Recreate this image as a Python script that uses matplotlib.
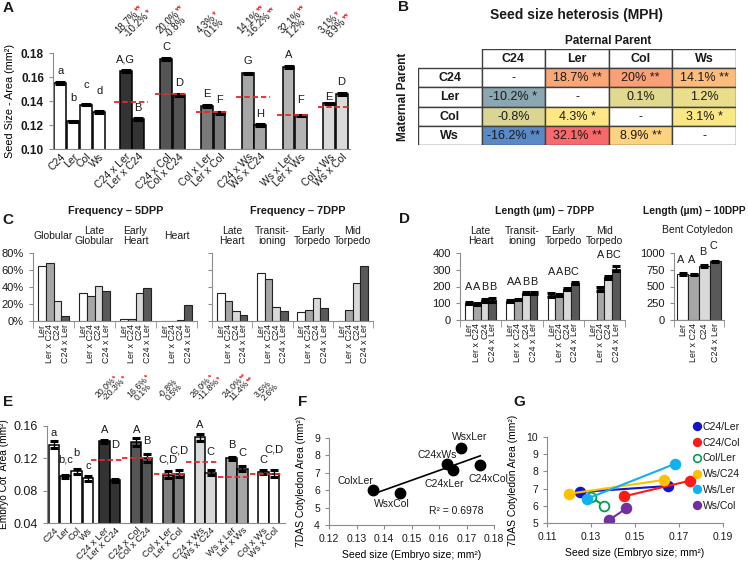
import numpy as np
import matplotlib
matplotlib.use('Agg')
import matplotlib.pyplot as plt
from matplotlib import transforms
from matplotlib.patches import Rectangle
from matplotlib.lines import Line2D
from matplotlib.colors import LinearSegmentedColormap, TwoSlopeNorm
from matplotlib.font_manager import FontProperties

FAMILY = ['Liberation Sans', 'DejaVu Sans']
plt.rcParams['font.family'] = FAMILY
plt.rcParams['font.size'] = 7.5
plt.rcParams['axes.edgecolor'] = '#8c8c8c'
plt.rcParams['xtick.color'] = '#8c8c8c'
plt.rcParams['ytick.color'] = '#8c8c8c'
plt.rcParams['xtick.labelcolor'] = '#1a1a1a'
plt.rcParams['ytick.labelcolor'] = '#1a1a1a'
plt.rcParams['text.color'] = '#1a1a1a'

# ---------------- data ----------------
parents = ['C24', 'Ler', 'Col', 'Ws']
crosses = [('C24', 'Ler'), ('Ler', 'C24'), ('C24', 'Col'), ('Col', 'C24'),
           ('Col', 'Ler'), ('Ler', 'Col'), ('C24', 'Ws'), ('Ws', 'C24'),
           ('Ws', 'Ler'), ('Ler', 'Ws'), ('Col', 'Ws'), ('Ws', 'Col')]
genotypes = parents + ['%s x %s' % c for c in crosses]

# A: seed size
seed_area = [0.155, 0.123, 0.137, 0.131, 0.165, 0.125, 0.175, 0.145,
             0.136, 0.130, 0.163, 0.120, 0.168, 0.128, 0.138, 0.146]
seed_err = [0.0008, 0.0006, 0.0007, 0.0006, 0.0008, 0.0006, 0.0008, 0.0007,
            0.0007, 0.0006, 0.0007, 0.0006, 0.0008, 0.0006, 0.0007, 0.0007]
seed_letters = ['a', 'b', 'c', 'd', 'A,G', 'B', 'C', 'D',
                'E', 'F', 'G', 'H', 'A', 'F', 'E', 'D']
seed_letter_y = [0.165, 0.1428, 0.1533, 0.1483, 0.1742, 0.134, 0.1853, 0.1553,
                 0.1458, 0.1408, 0.1733, 0.1292, 0.1783, 0.1408, 0.1436, 0.156]
seed_midparent = [0.139, 0.146, 0.131, 0.143, 0.128, 0.135]

# B: mid-parent heterosis of seed size (rows maternal, cols paternal)
mph_seed = [[np.nan, 18.7, 20.0, 14.1],
            [-10.2, np.nan, 0.1, 1.2],
            [-0.8, 4.3, np.nan, 3.1],
            [-16.2, 32.1, 8.9, np.nan]]
sig_seed = [['', '**', '**', '**'],
            ['*', '', '', ''],
            ['', '*', '', '*'],
            ['**', '**', '**', '']]

# C: stage frequencies (%)
line_names = ['Ler', 'Ler x C24', 'C24', 'C24 x Ler']
stages_5dpp = ['Globular', 'Late\nGlobular', 'Early\nHeart', 'Heart']
freq_5dpp = [[65, 68, 24, 6], [33, 29, 41, 35], [2, 2.5, 33, 39], [0, 0, 1, 19]]
stages_7dpp = ['Late\nHeart', 'Transit-\nioning', 'Early\nTorpedo', 'Mid\nTorpedo']
freq_7dpp = [[33, 24, 11.5, 7], [56, 50, 16.5, 12], [10.5, 13, 27, 15], [0, 13, 45, 65]]

# D: embryo length (um)
len_7dpp = [[100, 95, 118, 118], [115, 122, 160, 160],
            [150, 150, 188, 220], [np.nan, 183, 255, 305]]
len_7dpp_err = [[7, 6, 10, 12], [5, 5, 6, 7], [12, 5, 6, 8], [0, 12, 8, 15]]
len_7dpp_letters = [['A', 'A', 'B', 'B'], ['A', 'A', 'B', 'B'],
                    ['A', 'A', 'B', 'C'], ['', 'A', 'B', 'C']]
len_7dpp_letter_y = [195, 228, 287, 386]
stage_10dpp = ['Bent Cotyledon']
len_10dpp = [[688, 678, 808, 878]]
len_10dpp_err = [[12, 10, 12, 10]]
len_10dpp_letters = [['A', 'A', 'B', 'C']]
len_10dpp_letter_y = [890, 890, 1015, 1100]

# E: embryo cotyledon area
cot_area = [0.137, 0.098, 0.104, 0.0955, 0.141, 0.093, 0.140, 0.120,
            0.100, 0.101, 0.146, 0.102, 0.120, 0.107, 0.103, 0.101]
cot_err = [0.004, 0.002, 0.003, 0.003, 0.002, 0.002, 0.005, 0.005,
           0.004, 0.004, 0.004, 0.003, 0.002, 0.003, 0.002, 0.004]
cot_letters = ['a', 'b,c', 'b', 'c', 'A', 'D', 'A', 'B',
               'C,D', 'C,D', 'A', 'C', 'B', 'C', 'C', 'C,D']
cot_letter_y = [0.1517, 0.1188, 0.1262, 0.1105, 0.155, 0.1365, 0.155, 0.1418,
                0.118, 0.130, 0.161, 0.128, 0.1365, 0.127, 0.118, 0.1315]
cot_midparent = [0.1175, 0.1205, 0.101, 0.116, 0.097, 0.1005]
cot_mph = [20.0, -20.3, 16.6, 0.1, -0.8, 0.5, 26.0, -11.8, 24.0, 11.4, 3.5, 2.6]
cot_sig = ['*', '*', '*', '', '', '', '*', '*', '**', '**', '', '']

# F: seed size vs 7DAS cotyledon area
f_names = ['ColxLer', 'WsxCol', 'C24xWs', 'C24xLer', 'WsxLer', 'C24xCol']
f_seed = [0.136, 0.146, 0.163, 0.165, 0.168, 0.175]
f_cot = [6.0, 5.85, 7.5, 7.15, 8.43, 7.46]

# G: reciprocal pairs
g_names = ['C24/Ler', 'C24/Col', 'Col/Ler', 'Ws/C24', 'Ws/Ler', 'Ws/Col']
g_seed = [[0.125, 0.165], [0.145, 0.175], [0.130, 0.136],
          [0.120, 0.163], [0.128, 0.168], [0.138, 0.146]]
g_cot = [[6.8, 7.15], [6.55, 7.46], [6.5, 6.0],
         [6.7, 7.5], [6.4, 8.43], [5.15, 5.85]]

# ---------------- figure ----------------
W, H = 748, 563
fig = plt.figure(figsize=(W / 100, H / 100), dpi=100)
renderer = fig.canvas.get_renderer()


def add_ax(x0, y0, x1, y1):
    return fig.add_axes([x0 / W, 1 - y1 / H, (x1 - x0) / W, (y1 - y0) / H])


def ftext(x, y, s, **kw):
    kw.setdefault('ha', 'center')
    kw.setdefault('va', 'center')
    fig.text(x / W, 1 - y / H, s, **kw)


def clean(ax):
    ax.spines['top'].set_visible(False)
    ax.spines['right'].set_visible(False)


def star_label(ax, x, yfrac, text, star, size, dx=0, dy=0, angle=45):
    base = transforms.blended_transform_factory(ax.transData, ax.transAxes)
    kw = dict(rotation=angle, rotation_mode='anchor', ha='left', va='baseline',
              fontsize=size, clip_on=False)
    ax.text(x, yfrac, text, transform=transforms.offset_copy(base, fig=fig, x=dx, y=dy, units='dots'), **kw)
    if star:
        w = renderer.get_text_width_height_descent(text, FontProperties(family=FAMILY, size=size), ismath=False)[0]
        a = np.radians(angle)
        ax.text(x, yfrac, star, color='#e00000',
                transform=transforms.offset_copy(base, fig=fig, x=dx + w * np.cos(a), y=dy + w * np.sin(a), units='dots'),
                **kw)


def cross_panel(ax, values, errs, letters, letter_y, midparent, pair_start, pair_step,
                pair_colors, mp_span, capsize, label_size):
    x_par = np.arange(4)
    x_cross = np.array([[pair_start + pair_step * i, pair_start + pair_step * i + 0.95] for i in range(6)]).ravel()
    xs = np.concatenate([x_par, x_cross])
    cols = ['white'] * 4 + [c for c in pair_colors for _ in range(2)]
    ax.bar(xs, values, width=0.92, color=cols, edgecolor='black', linewidth=1.1, zorder=2)
    ax.errorbar(xs, values, yerr=errs, fmt='none', ecolor='black', elinewidth=1,
                capsize=capsize, capthick=2.2, zorder=3)
    for x, t, y in zip(xs, letters, letter_y):
        ax.text(x, y, t, ha='center', va='center', fontsize=8, clip_on=False)
    centers = x_cross.reshape(6, 2).mean(axis=1)
    for c, mp in zip(centers, midparent):
        ax.plot([c + mp_span[0], c + mp_span[1]], [mp, mp], color='#e8262a', lw=1.3,
                ls=(0, (3, 1.6)), zorder=4)
    ax.set_xticks(xs)
    ax.set_xticklabels(genotypes, rotation=45, ha='right', rotation_mode='anchor', fontsize=label_size)
    ax.tick_params(axis='x', length=0, pad=2)
    ax.tick_params(axis='y', direction='out', length=3)
    clean(ax)
    return centers


# ---- A ----
axA = add_ax(53, 53, 350, 149)
cA = cross_panel(axA, seed_area, seed_err, seed_letters, seed_letter_y, seed_midparent,
                 5.05, 3.13, ['#333333', '#555555', '#7a7a7a', '#a6a6a6', '#b4b4b4', '#dadada'],
                 (-1.35, 1.2), 3.8, 7.5)
axA.set_xlim(-0.55, 22.3)
axA.set_ylim(0.10, 0.18)
axA.set_yticks(np.arange(0.10, 0.181, 0.02))
axA.set_yticklabels(['%.2f' % v for v in np.arange(0.10, 0.181, 0.02)], fontweight='bold', fontsize=8.5)
axA.set_ylabel('Seed Size - Area (mm²)', fontsize=7.8, labelpad=4)

pidx = {p: i for i, p in enumerate(parents)}
for i, c in enumerate(cA):
    for k, (m, p) in enumerate(crosses[2 * i:2 * i + 2]):
        v = mph_seed[pidx[m]][pidx[p]]
        star_label(axA, c - 0.95, 1.2, '%.1f%%' % v, sig_seed[pidx[m]][pidx[p]], 7,
                   dx=8 * k, dy=-4 * k)

# ---- B ----
axB = add_ax(418, 49, 736, 145)
axB.set_xlim(0, 5)
axB.set_ylim(5, 0)
axB.axis('off')
vals = np.array(mph_seed, dtype=float)
cmap = LinearSegmentedColormap.from_list('mph', ['#5A8AC6', '#FFEB84', '#F8696B'])
norm = TwoSlopeNorm(vmin=np.nanmin(vals), vcenter=np.nanmedian(vals), vmax=np.nanmax(vals))
for r in range(5):
    for c in range(5):
        if r == 0 and c == 0:
            continue
        fc = 'white'
        if r == 0:
            txt, fw = parents[c - 1], 'bold'
        elif c == 0:
            txt, fw = parents[r - 1], 'bold'
        else:
            v = vals[r - 1, c - 1]
            fw = 'normal'
            if np.isnan(v):
                txt = '-'
            else:
                s = sig_seed[r - 1][c - 1]
                txt = '%g%%' % v + (' ' + s if s else '')
                fc = cmap(norm(v))
        axB.add_patch(Rectangle((c, r), 1, 1, facecolor=fc, edgecolor='#404040', lw=1))
        axB.text(c + 0.5, r + 0.52, txt, ha='center', va='center', fontsize=9, fontweight=fw)
ftext(577, 15, 'Seed size heterosis (MPH)', fontsize=10, fontweight='bold')
ftext(608, 41, 'Paternal Parent', fontsize=8.5, fontweight='bold')
ftext(403, 97, 'Maternal Parent', fontsize=8.5, fontweight='bold', rotation=90)

# ---- C and D ----
line_colors = ['white', '#a6a6a6', '#d9d9d9', '#595959']


def stage_panel(ax, data, names, G, ylim, yticks, ylabels=None, errs=None,
                letters=None, letter_y=None, name_y=1.25):
    xs_all = []
    for g, vals_g in enumerate(data):
        x = g * G + (G - 4) / 2 + 0.5 + np.arange(4)
        xs_all.extend(x)
        ax.bar(x, vals_g, width=1.0, color=line_colors, edgecolor='#222222', linewidth=0.8, zorder=2)
        if errs is not None:
            ok = ~np.isnan(np.array(vals_g, dtype=float))
            ax.errorbar(x[ok], np.array(vals_g)[ok], yerr=np.array(errs[g])[ok], fmt='none',
                        ecolor='black', elinewidth=1, capsize=2.8, capthick=2.2, zorder=3)
        if letters is not None:
            for xi, t in zip(x, letters[g]):
                ax.text(xi, letter_y[g], t, ha='center', va='center', fontsize=7.8, clip_on=False)
        ax.text(g * G + G / 2, name_y, names[g], ha='center', va='center', fontsize=7.5,
                linespacing=1.05, transform=transforms.blended_transform_factory(ax.transData, ax.transAxes))
    ax.set_xlim(0, G * len(data))
    ax.set_ylim(*ylim)
    ax.set_xticks(xs_all)
    ax.set_xticklabels(line_names * len(data), rotation=90, va='top', ha='center', fontsize=6.4)
    ax.set_xticks(np.arange(len(data) + 1) * G, minor=True)
    ax.tick_params(axis='x', which='major', length=0, pad=2)
    ax.tick_params(axis='x', which='minor', length=5, direction='out')
    ax.set_yticks(yticks)
    if ylabels is None:
        ax.set_yticklabels([])
    else:
        ax.set_yticklabels(ylabels, fontsize=8)
    ax.tick_params(axis='y', direction='out', length=3)
    clean(ax)


G = 5.3
axC1 = add_ax(33, 253, 197, 321)
stage_panel(axC1, freq_5dpp, stages_5dpp, G, (0, 80), [0, 20, 40, 60, 80],
            ['0%', '20%', '40%', '60%', '80%'])
axC2 = add_ax(212, 253, 373, 321)
stage_panel(axC2, freq_7dpp, stages_7dpp, G, (0, 80), [0, 20, 40, 60, 80])
ftext(116, 211, 'Frequency – 5DPP', fontsize=7.8, fontweight='bold')
ftext(298, 211, 'Frequency – 7DPP', fontsize=7.8, fontweight='bold')

axD1 = add_ax(460, 253, 625, 320)
stage_panel(axD1, len_7dpp, stages_7dpp, G, (0, 400), [0, 100, 200, 300, 400],
            ['0', '100', '200', '300', '400'], errs=len_7dpp_err,
            letters=len_7dpp_letters, letter_y=len_7dpp_letter_y)
axD2 = add_ax(674, 253, 724, 320)
stage_panel(axD2, len_10dpp, [''], 4.6, (0, 1000), [0, 250, 500, 750, 1000],
            ['0', '250', '500', '750', '1000'], errs=len_10dpp_err)
for x, t, y in zip(0.3 + 0.5 + np.arange(4), len_10dpp_letters[0], len_10dpp_letter_y):
    axD2.text(x - 0.2, y, t, ha='center', va='center', fontsize=7.8, clip_on=False)
ftext(545, 211, 'Length (µm) – 7DPP', fontsize=7.6, fontweight='bold')
ftext(694, 211, 'Length (µm) – 10DPP', fontsize=7.4, fontweight='bold')
ftext(697, 230, stage_10dpp[0], fontsize=7.5)

# ---- E ----
axE = add_ax(47, 426, 285, 523)
cE = cross_panel(axE, cot_area, cot_err, cot_letters, cot_letter_y, cot_midparent,
                 4.45, 2.81, ['#333333', '#555555', '#808080', '#d9d9d9', '#a6a6a6', 'white'],
                 (-1.7, 1.1), 3.0, 6.8)
axE.set_xlim(-0.62, 20.4)
axE.set_ylim(0.04, 0.16)
axE.set_yticks([0.04, 0.08, 0.12, 0.16])
axE.set_yticklabels(['0.04', '0.08', '0.12', '0.16'], fontsize=9)
axE.set_ylabel('Embryo Cot  Area (mm²)', fontsize=7.3, labelpad=3)
for i, c in enumerate(cE):
    for k in range(2):
        star_label(axE, c - 1.0, 1.29, '%.1f%%' % cot_mph[2 * i + k], cot_sig[2 * i + k], 6.3,
                   dx=7 * k, dy=-3 * k)

# ---- F ----
axF = add_ax(329, 438, 494, 525)
axF.plot(f_seed, f_cot, 'o', color='black', ms=7.5, zorder=3)
slope, icpt = np.polyfit(f_seed, f_cot, 1)
xx = np.array([min(f_seed), max(f_seed)])
axF.plot(xx, slope * xx + icpt, color='black', lw=1.2)
f_offsets = [(-18, 9), (-9, -11), (-10, 9), (-8, -14), (9, 11), (8, -14)]
for name, x, y, off in zip(f_names, f_seed, f_cot, f_offsets):
    axF.annotate(name, (x, y), xytext=off, textcoords='offset pixels', ha='center', va='center',
                 fontsize=7.5, annotation_clip=False)
axF.text(0.935, 0.16, 'R² = 0.6978', transform=axF.transAxes, ha='right', va='center', fontsize=7.5)
axF.set_xlim(0.12, 0.18)
axF.set_ylim(4, 9)
axF.set_xticks(np.arange(0.12, 0.181, 0.01))
axF.set_xticklabels(['%.2f' % v for v in np.arange(0.12, 0.181, 0.01)], fontsize=7.5)
axF.set_yticks(range(4, 10))
axF.tick_params(labelsize=7.5, length=3)
axF.set_xlabel('Seed size (Embryo size; mm²)', fontsize=7.5, labelpad=4)
axF.set_ylabel('7DAS Cotyledon Area (mm²)', fontsize=7.5, labelpad=6)
clean(axF)

# ---- G ----
axG = add_ax(547, 437, 723, 523)
g_colors = ['#1414c8', '#ff1a1a', '#00a050', '#ffc000', '#14b0f0', '#7030a0']
handles = []
for name, xs, ys, col in zip(g_names, g_seed, g_cot, g_colors):
    face = 'white' if name == 'Col/Ler' else col
    axG.plot(xs, ys, '-', color=col, lw=1.5, marker='o', ms=7, mfc=face, mec=col, mew=1.3)
    handles.append(Line2D([], [], ls='none', marker='o', ms=5.5, color=col, mfc=face, mec=col, mew=1.2))
axG.set_xlim(0.11, 0.19)
axG.set_ylim(5, 10)
axG.set_xticks(np.arange(0.11, 0.191, 0.02))
axG.set_xticklabels(['%.2f' % v for v in np.arange(0.11, 0.191, 0.02)], fontsize=7.5)
axG.set_yticks(range(5, 11))
axG.tick_params(labelsize=7.5, length=3)
axG.set_xlabel('Seed size (Embryo size; mm²)', fontsize=7.5, labelpad=4)
axG.set_ylabel('7DAS Cotyledon Area (mm²)', fontsize=7.5, labelpad=6)
clean(axG)
fig.legend(handles, g_names, loc='upper left', bbox_to_anchor=(694 / W, 1 - 422 / H),
           frameon=False, handlelength=0.6, handletextpad=0.25, labelspacing=0.55,
           fontsize=7.5, borderaxespad=0, borderpad=0)

# ---- panel letters ----
for lab, x, y in [('A', 8, 8), ('B', 403, 7), ('C', 8, 220), ('D', 404, 219),
                  ('E', 8, 402), ('F', 303, 402), ('G', 519, 402)]:
    ftext(x, y, lab, fontsize=11, fontweight='bold')

fig.savefig('out.png', dpi=100)
